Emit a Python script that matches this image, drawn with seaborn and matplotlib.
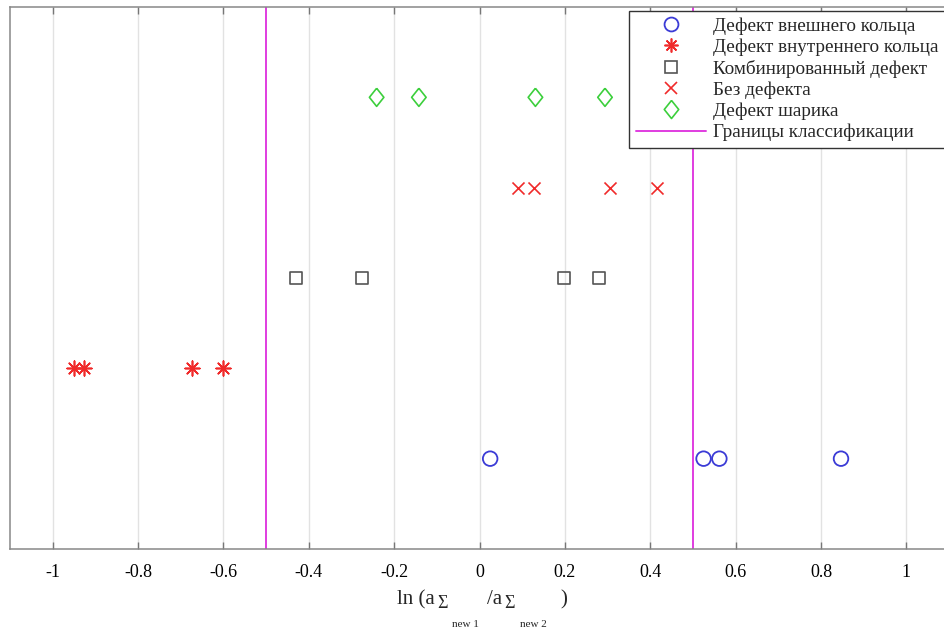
import numpy as np
import pandas as pd
import matplotlib
matplotlib.use("Agg")
import matplotlib.pyplot as plt
from matplotlib.lines import Line2D
import seaborn as sns

# values
outer_x = [0.025, 0.525, 0.562, 0.847]
inner_x = [-0.949, -0.927, -0.674, -0.601]
combined_x = [-0.429, -0.275, 0.199, 0.281]
healthy_x = [0.091, 0.127, 0.306, 0.415]
ball_x = [-0.241, -0.142, 0.131, 0.294]
levels = [1, 2, 3, 4, 5]
bounds = [-0.5, 0.5]
xticks = [-1, -0.8, -0.6, -0.4, -0.2, 0, 0.2, 0.4, 0.6, 0.8, 1]

labels = ["Дефект внешнего кольца", "Дефект внутреннего кольца",
          "Комбинированный дефект", "Без дефекта", "Дефект шарика"]
bound_label = "Границы классификации"

sns.set_theme(style="white")
plt.rcParams["font.family"] = ["Liberation Serif", "DejaVu Serif"]

fig = plt.figure(figsize=(9.45, 6.29), dpi=100)
W, H = 945, 629
ax = fig.add_axes([10 / W, (H - 549) / H, 939 / W, 542 / H])

blue = "#3b3bd6"
red = "#f02a2a"
gray = "#555555"
green = "#3ccf3c"
magenta = "#e03ce0"

diamond = [(0, 1), (0.8, 0), (0, -1), (-0.8, 0), (0, 1)]

series = [
    (outer_x, levels[0], dict(marker="o", s=110, facecolor="none", edgecolor=blue, linewidth=1.3)),
    (inner_x, levels[1], dict(marker=(8, 2, 0), s=110, color=red, linewidth=1.2)),
    (combined_x, levels[2], dict(marker="s", s=75, facecolor="none", edgecolor=gray, linewidth=1.2)),
    (healthy_x, levels[3], dict(marker="x", s=75, color=red, linewidth=1.2)),
    (ball_x, levels[4], dict(marker=diamond, s=170, facecolor="none", edgecolor=green, linewidth=1.2)),
]
for (xs, lvl, kw), lab in zip(series, labels):
    df = pd.DataFrame({"x": xs, "y": [lvl] * len(xs)})
    sns.scatterplot(data=df, x="x", y="y", ax=ax, label=lab, legend=False, zorder=3, **kw)

for b in bounds:
    ax.axvline(b, color=magenta, linewidth=1.4, zorder=2)

ax.set_xlim(-1.1, 1.1)
ax.set_ylim(0, 6)
ax.set_xticks(xticks)
ax.set_xticklabels([f"{t:g}" for t in xticks])
ax.set_yticks([])
ax.grid(axis="x", color="#e2e2e2", linewidth=1.0)
ax.set_axisbelow(True)
ax.set_xlabel("")
ax.set_ylabel("")
ax.tick_params(axis="x", direction="in", length=5, width=1, color="#777777",
               top=True, bottom=True, labelsize=13, pad=11, labelcolor="black")
for sp in ax.spines.values():
    sp.set_color("#888888")
    sp.set_linewidth(1.1)

# x label built the way MATLAB's TeX interpreter lays it out (nested subscripts)
label_parts = [
    ("ln (a", 397, 604, 15),
    ("Σ", 437, 608, 13),
    ("new 1", 452, 627, 8),
    ("/a", 487, 604, 15),
    ("Σ", 504, 608, 13),
    ("new 2", 520, 627, 8),
    (")", 560, 604, 15),
]
for txt, px, py, fs in label_parts:
    fig.text(px / W, 1 - py / H, txt, fontsize=fs, ha="left", va="baseline")

handles = [
    Line2D([], [], linestyle="none", marker="o", markersize=10, markerfacecolor="none",
           markeredgecolor=blue, markeredgewidth=1.3),
    Line2D([], [], linestyle="none", marker=(8, 2, 0), markersize=10, color=red, markeredgewidth=1.2),
    Line2D([], [], linestyle="none", marker="s", markersize=8, markerfacecolor="none",
           markeredgecolor=gray, markeredgewidth=1.2),
    Line2D([], [], linestyle="none", marker="x", markersize=8, color=red, markeredgewidth=1.2),
    Line2D([], [], linestyle="none", marker=diamond, markersize=13, markerfacecolor="none",
           markeredgecolor=green, markeredgewidth=1.2),
    Line2D([], [], color=magenta, linewidth=1.4),
]
leg = ax.legend(handles, labels + [bound_label], loc="upper right",
                bbox_to_anchor=(1.0, 1.0), fontsize=13.8, frameon=True, fancybox=False,
                edgecolor="#333333", framealpha=1, handlelength=3.65, handletextpad=0.36,
                labelspacing=0.19, borderpad=0.35, borderaxespad=0.2)
leg.get_frame().set_linewidth(1.0)

fig.savefig("out.png", dpi=100)
